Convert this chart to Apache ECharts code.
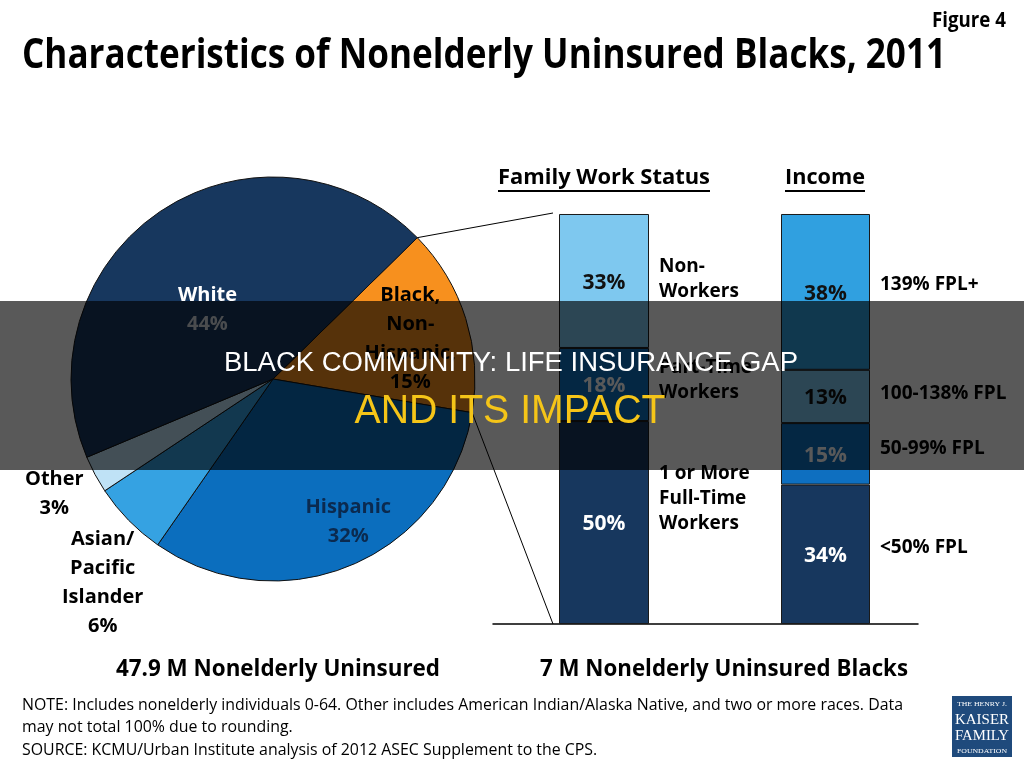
<!DOCTYPE html>
<html><head><meta charset="utf-8">
<script src="https://cdn.jsdelivr.net/npm/echarts/dist/echarts.min.js"></script>
<style>html,body{margin:0;padding:0;background:#fff}#c{width:1024px;height:768px}</style>
</head><body><div id="c"></div>
<script>
// ---------- data ----------
const pieNames = ['Black,\nNon-\nHispanic,', 'Hispanic', 'Asian/\nPacific\nIslander', 'Other', 'White'];
const pieValues = [15, 32, 6, 3, 44];
const workCategories = ['1 or More\nFull-Time\nWorkers', 'Part-Time\nWorkers', 'Non-\nWorkers'];
const workValues = [50, 18, 33];
const incomeCategories = ['<50% FPL', '50-99% FPL', '100-138% FPL', '139% FPL+'];
const incomeValues = [34, 15, 13, 38];
const barGroups = ['Family Work Status', 'Income'];
const captions = ['47.9 M Nonelderly Uninsured', '7 M Nonelderly Uninsured Blacks'];
const titleText = 'Characteristics of Nonelderly Uninsured Blacks, 2011';
const figureText = 'Figure 4';
const noteLines = ['NOTE: Includes nonelderly individuals 0-64. Other includes American Indian/Alaska Native, and two or more races. Data',
  'may not total 100% due to rounding.',
  'SOURCE: KCMU/Urban Institute analysis of 2012 ASEC Supplement to the CPS.'];
const overlayLine1 = 'BLACK COMMUNITY: LIFE INSURANCE GAP';
const overlayLine2 = 'AND ITS IMPACT';

// ---------- styles ----------
const F = "'Open Sans', sans-serif";
const pieColors = ['#f7901e', '#0b6ebe', '#35a2e2', '#bfe2f6', '#17375e'];
const pieNameColors = ['#000', '#0b2a4f', '#000', '#000', '#fff'];
const piePctColors = ['#000', '#0b2a4f', '#000', '#000', '#d3d9e0'];
const pieShift = [[38, -9], [35, 47], [-96, 131], [-127, 66], [-8, 17]];
const workColors = ['#17375e', '#0e6fc0', '#7ec8ef'];
const workValColors = ['#fff', '#fff', '#111'];
const workNameDy = [-24, -4, -2];
const incomeColors = ['#17375e', '#0e6fc0', '#7ec8ef', '#30a0e0'];
const incomeValColors = ['#fff', '#fff', '#111', '#111'];
const incomeNameDy = [-7, -5, -3, -7];

const PIE = {cx: 273, cy: 379, r: 202, start: 44.4};
const GW = {left: 559, width: 90, top: 214, height: 410};
const GI = {left: 781, width: 89, top: 214, height: 410};
const GB = {left: 493, width: 425, top: 214, height: 410};

const ctx = document.createElement('canvas').getContext('2d');
function fit(text, font, width) { ctx.font = font; return width / ctx.measureText(text).width; }
function txt(text, x, y, font, color, align, width, z) {
  const s = width ? fit(text, font, width) : 1;
  return {type: 'text', x: x, y: y, scaleX: s, z: z || 50, silent: true,
    style: {text: text, font: font, fill: color, align: align, textAlign: align, verticalAlign: 'middle', textVerticalAlign: 'middle'}};
}

const series = [];
function addStack(values, names, colors, valColors, nameDy, xi, stackId, dist) {
  values.forEach((v, i) => {
    series.push({type: 'bar', name: names[i], xAxisIndex: xi, yAxisIndex: xi, stack: stackId, barWidth: '100%', barGap: '-100%',
      data: [v], silent: true,
      itemStyle: {color: colors[i], borderColor: '#1a1a1a', borderWidth: 1},
      label: {show: true, position: 'inside', formatter: '{c}%', color: valColors[i], fontFamily: F, fontWeight: 'bold', fontSize: 21, offset: [0, 2]}});
  });
  values.forEach((v, i) => {
    series.push({type: 'bar', name: names[i] + ' ', xAxisIndex: xi, yAxisIndex: xi, stack: stackId + 'Names', barWidth: '100%', barGap: '-100%',
      data: [v], silent: true,
      itemStyle: {color: 'rgba(0,0,0,0)'},
      label: {show: true, position: 'right', distance: dist, formatter: names[i], color: '#000', fontFamily: F, fontWeight: 'bold', fontSize: 19, lineHeight: 25, align: 'left', offset: [0, nameDy[i]]}});
  });
}
addStack(workValues, workCategories, workColors, workValColors, workNameDy, 0, 'work', 10);
addStack(incomeValues, incomeCategories, incomeColors, incomeValColors, incomeNameDy, 1, 'income', 10);

const rich = {};
pieNames.forEach((n, i) => {
  rich['n' + i] = {color: pieNameColors[i], fontFamily: F, fontWeight: 'bold', fontSize: 20, lineHeight: 29, align: 'center'};
  rich['p' + i] = {color: piePctColors[i], fontFamily: F, fontWeight: 'bold', fontSize: 20, lineHeight: 29, align: 'center'};
});
series.push({type: 'pie', center: [PIE.cx, PIE.cy], radius: PIE.r, startAngle: PIE.start, clockwise: true, silent: true,
  data: pieNames.map((n, i) => ({name: n, value: pieValues[i], itemStyle: {color: pieColors[i]}})),
  itemStyle: {borderColor: '#111', borderWidth: 1},
  label: {show: true, position: 'inside', formatter: p => '{n' + p.dataIndex + '|' + p.name + '}\n{p' + p.dataIndex + '|' + p.value + '%}', rich: rich},
  labelLine: {show: false},
  labelLayout: p => ({dx: pieShift[p.dataIndex][0], dy: pieShift[p.dataIndex][1]})
});

// connecting lines from pie slice edges to the work-status bar
const total = pieValues.reduce((a, b) => a + b, 0);
const a0 = PIE.start * Math.PI / 180;
const a1 = (PIE.start - pieValues[0] / total * 360) * Math.PI / 180;
const p0 = [PIE.cx + PIE.r * Math.cos(a0), PIE.cy - PIE.r * Math.sin(a0)];
const p1 = [PIE.cx + PIE.r * Math.cos(a1), PIE.cy - PIE.r * Math.sin(a1)];
const ex = GW.left - 6;

const graphic = [];
graphic.push({type: 'line', silent: true, z: 40, shape: {x1: p0[0], y1: p0[1], x2: ex, y2: GW.top - 1}, style: {stroke: '#000', lineWidth: 1}});
graphic.push({type: 'line', silent: true, z: 40, shape: {x1: p1[0], y1: p1[1], x2: ex, y2: GW.top + GW.height}, style: {stroke: '#000', lineWidth: 1}});
// titles
graphic.push(txt(titleText, 22, 56, "bold 42px " + F, '#000', 'left', 924));
graphic.push(txt(figureText, 1006, 21, "bold 22px " + F, '#000', 'right', 74));
// bar headers with underline
const hdrFont = "bold 22px " + F;
[[barGroups[0], 604, 212], [barGroups[1], 825, 80]].forEach(h => {
  graphic.push(txt(h[0], h[1], 178, hdrFont, '#000', 'center', h[2]));
  graphic.push({type: 'rect', silent: true, z: 50, shape: {x: h[1] - h[2] / 2, y: 190, width: h[2], height: 2}, style: {fill: '#000'}});
});
// captions
graphic.push(txt(captions[0], 278, 669, "bold 24px " + F, '#000', 'center', 324));
graphic.push(txt(captions[1], 724, 669, "bold 24px " + F, '#000', 'center', 368));
// notes
const noteFont = "17px " + F;
const ns = fit(noteLines[0], noteFont, 881);
[705, 727, 750].forEach((y, i) => {
  const t = txt(noteLines[i], 22, y, noteFont, '#000', 'left'); t.scaleX = ns; graphic.push(t);
});
// logo
graphic.push({type: 'rect', silent: true, z: 50, shape: {x: 952, y: 696, width: 60, height: 61}, style: {fill: '#1f4a7c'}});
const SF = "'Liberation Serif', serif";
graphic.push(txt('THE HENRY J.', 982, 704, "7px " + SF, '#fff', 'center', 50, 51));
graphic.push(txt('KAISER', 982, 720, "15px " + SF, '#fff', 'center', 54, 51));
graphic.push(txt('FAMILY', 982, 736, "15px " + SF, '#fff', 'center', 54, 51));
graphic.push(txt('FOUNDATION', 982, 751, "7px " + SF, '#fff', 'center', 50, 51));
// dark overlay band with headline
graphic.push({type: 'rect', silent: true, z: 100, shape: {x: 0, y: 301, width: 1024, height: 169}, style: {fill: 'rgba(0,0,0,0.65)'}});
graphic.push(txt(overlayLine1, 511, 364, "27px 'Liberation Sans', Arial, sans-serif", '#fff', 'center', 574, 101));
graphic.push(txt(overlayLine2, 510, 412, "40px 'Liberation Sans', Arial, sans-serif", '#f5c518', 'center', 311, 101));

const chart = echarts.init(document.getElementById('c'), null, {renderer: 'canvas'});
chart.setOption({
  animation: false,
  backgroundColor: '#fff',
  grid: [
    {left: GW.left, width: GW.width, top: GW.top, height: GW.height},
    {left: GI.left, width: GI.width, top: GI.top, height: GI.height},
    {left: GB.left, width: GB.width, top: GB.top, height: GB.height}
  ],
  xAxis: [
    {gridIndex: 0, type: 'category', data: [barGroups[0]], show: false},
    {gridIndex: 1, type: 'category', data: [barGroups[1]], show: false},
    {gridIndex: 2, type: 'category', data: [''], axisLine: {show: true, lineStyle: {color: '#000', width: 1.5}}, axisTick: {show: false}, axisLabel: {show: false}}
  ],
  yAxis: [
    {gridIndex: 0, type: 'value', min: 0, max: workValues.reduce((a, b) => a + b, 0), show: false},
    {gridIndex: 1, type: 'value', min: 0, max: incomeValues.reduce((a, b) => a + b, 0), show: false},
    {gridIndex: 2, type: 'value', min: 0, max: 1, show: false}
  ],
  series: series,
  graphic: graphic
});
</script></body></html>
